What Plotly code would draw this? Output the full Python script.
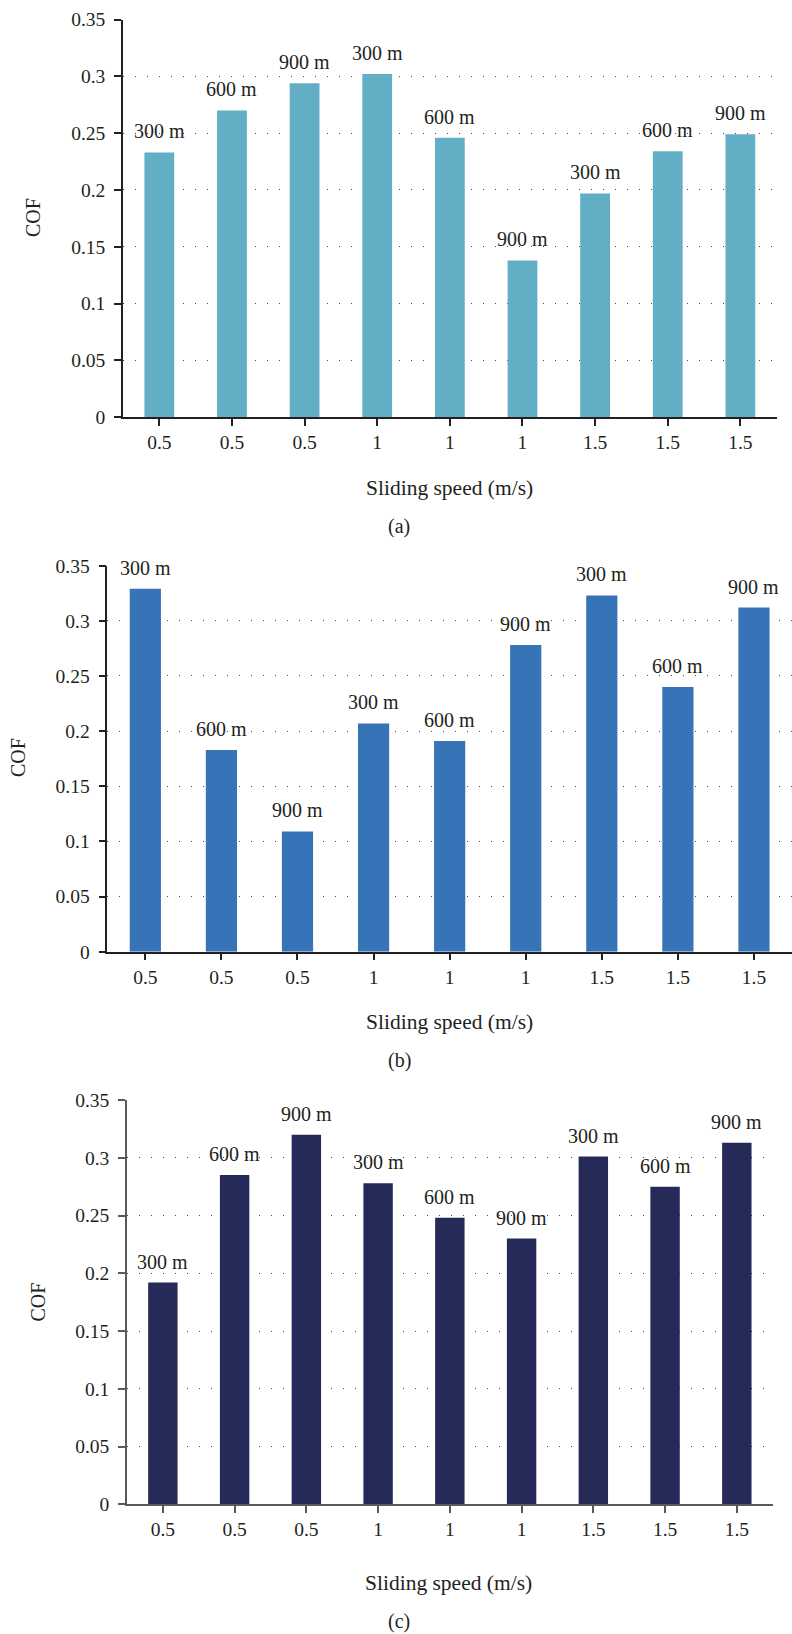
import plotly.graph_objects as go

# ---- data ----
speeds = ["0.5", "0.5", "0.5", "1", "1", "1", "1.5", "1.5", "1.5"]
distances = ["300 m", "600 m", "900 m", "300 m", "600 m", "900 m", "300 m", "600 m", "900 m"]
cof_a = [0.233, 0.270, 0.294, 0.302, 0.246, 0.138, 0.197, 0.234, 0.249]
cof_b = [0.329, 0.183, 0.109, 0.207, 0.191, 0.278, 0.323, 0.240, 0.312]
cof_c = [0.192, 0.285, 0.320, 0.278, 0.248, 0.230, 0.301, 0.275, 0.313]
panel_labels = ["(a)", "(b)", "(c)"]
y_ticks = [0, 0.05, 0.1, 0.15, 0.2, 0.25, 0.3, 0.35]

W, H = 792, 1634
FONT = "'Liberation Serif', 'DejaVu Serif', serif"
TXT = "#231f20"

def px(x):
    return x / W

def py(y):
    return 1 - y / H

# pixel boxes: (left, right, top, bottom), colours
panels = [
    dict(vals=cof_a, color="#62aec5", box=(123, 776.7, 19.5, 417.3), axcol="#231f20",
         ytitle=(33, 218), xtitle=(449, 488.3), lab=(399, 526.7)),
    dict(vals=cof_b, color="#3673b7", box=(107.3, 792, 565.7, 951.7), axcol="#231f20",
         ytitle=(18, 758), xtitle=(449, 1021.7), lab=(399, 1060)),
    dict(vals=cof_c, color="#262a59", box=(127, 772.7, 1100, 1504.3), axcol="#5a5a5a",
         ytitle=(37, 1302.5), xtitle=(448.3, 1583.3), lab=(399, 1621.7)),
]

idx = list(range(len(speeds)))
fig = go.Figure()
annotations = []
layout = dict(
    width=W, height=H,
    margin=dict(l=0, r=0, t=0, b=0, autoexpand=False),
    paper_bgcolor="white", plot_bgcolor="white",
    showlegend=False,
    font=dict(family=FONT, size=20, color=TXT),
    hovermode=False,
)

for k, p in enumerate(panels):
    n = "" if k == 0 else str(k + 1)
    xa, ya = "x" + n, "y" + n
    fig.add_trace(go.Bar(x=idx, y=p["vals"], width=0.41, marker=dict(color=p["color"], line_width=0),
                         xaxis=xa, yaxis=ya))
    l, r, t, b = p["box"]
    layout["xaxis" + n] = dict(
        domain=[px(l), min(px(r), 1)], anchor=ya, range=[-0.5, 8.5], automargin=False,
        tickvals=idx, ticktext=speeds, showgrid=False, zeroline=False,
        showline=True, linecolor=p["axcol"], linewidth=1.5,
        ticks="outside", ticklen=7, tickwidth=1.5, tickcolor=p["axcol"],
        tickfont=dict(family=FONT, size=19.5, color=TXT), fixedrange=True,
    )
    layout["yaxis" + n] = dict(
        domain=[py(b), py(t)], anchor=xa, range=[0, 0.35], automargin=False,
        tickvals=y_ticks, ticktext=[f"{v:g}" for v in y_ticks],
        showgrid=True, gridcolor="#444444", gridwidth=1, griddash="1px,11px",
        zeroline=False, showline=True, linecolor=p["axcol"], linewidth=1.5,
        ticks="outside", ticklen=7, tickwidth=1.5, tickcolor=p["axcol"],
        ticklabelstandoff=5,
        tickfont=dict(family=FONT, size=19.5, color=TXT), fixedrange=True,
    )
    for i, (v, d) in enumerate(zip(p["vals"], distances)):
        annotations.append(dict(x=i, y=v, xref=xa, yref=ya, text=d, showarrow=False,
                                xanchor="center", yanchor="middle", yshift=21,
                                font=dict(family=FONT, size=20, color=TXT)))
    annotations.append(dict(x=px(p["ytitle"][0]), y=py(p["ytitle"][1]), xref="paper", yref="paper",
                            text="COF", textangle=-90, showarrow=False,
                            xanchor="center", yanchor="middle",
                            font=dict(family=FONT, size=20, color=TXT)))
    annotations.append(dict(x=px(p["xtitle"][0]), y=py(p["xtitle"][1]), xref="paper", yref="paper",
                            text="Sliding speed (m/s)", showarrow=False,
                            xanchor="center", yanchor="middle",
                            font=dict(family=FONT, size=21.5, color=TXT)))
    annotations.append(dict(x=px(p["lab"][0]), y=py(p["lab"][1]), xref="paper", yref="paper",
                            text=panel_labels[k], showarrow=False,
                            xanchor="center", yanchor="middle",
                            font=dict(family=FONT, size=20, color=TXT)))

layout["annotations"] = annotations
fig.update_layout(**layout)
fig.write_html(
    "out.html",
    config=dict(displayModeBar=False),
    post_script="document.body.style.margin='0';document.body.style.overflow='hidden';",
)
